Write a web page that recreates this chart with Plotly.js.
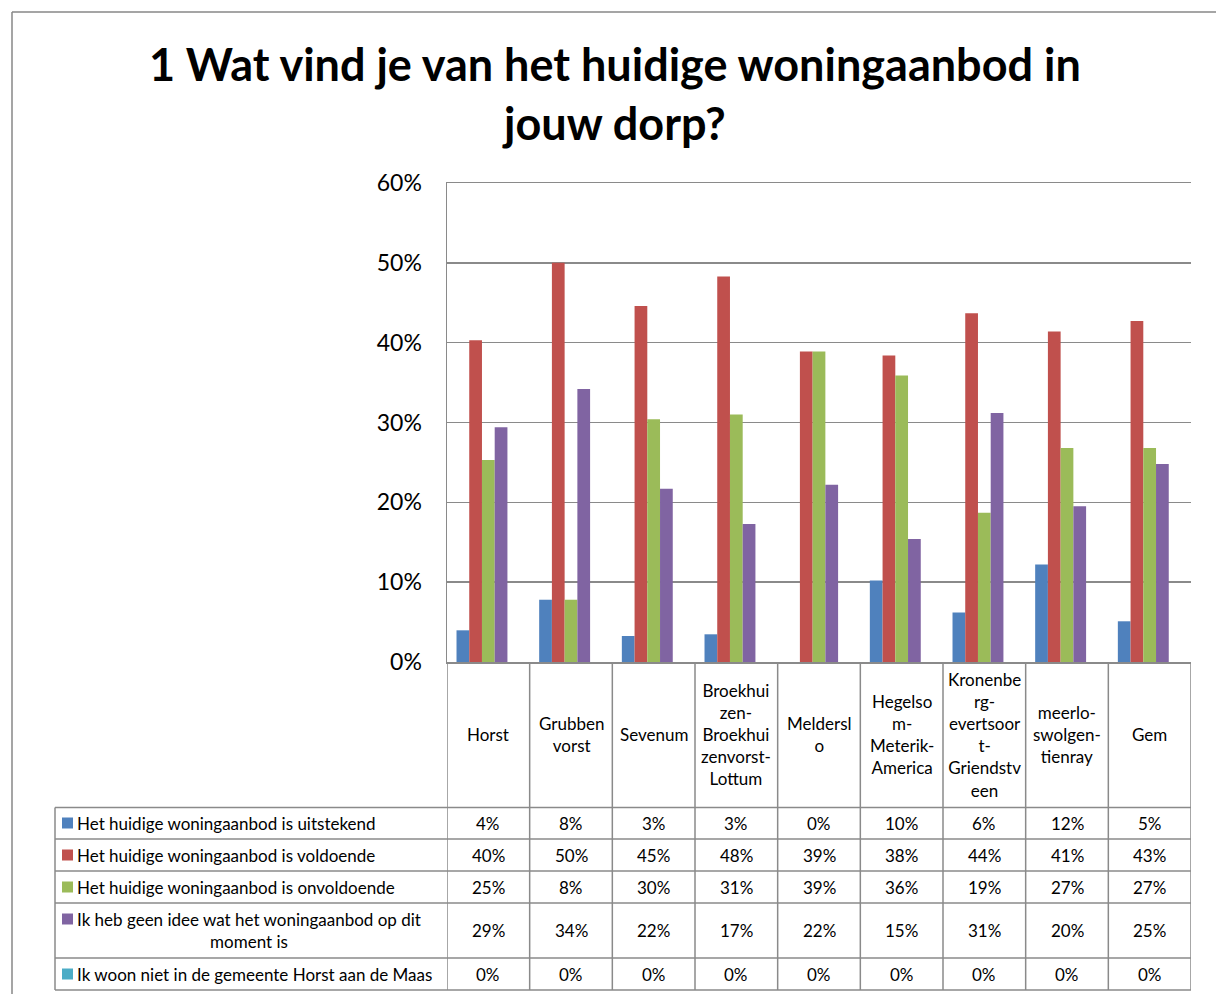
<!DOCTYPE html>
<html>
<head>
<meta charset="utf-8">
<script src="https://cdn.plot.ly/plotly-3.0.1.min.js"></script>
<style>html,body{margin:0;padding:0;background:#fff;}#chart{width:1216px;height:994px;}</style>
</head>
<body>
<div id="chart"></div>
<script>
// ---- data ----
const categories = ['Horst','Grubbenvorst','Sevenum','Broekhuizen-Broekhuizenvorst-Lottum','Melderslo','Hegelsom-Meterik-America','Kronenberg-evertsoort-Griendstveen','meerlo-swolgen-tienray','Gem'];
const categoryLabels = ['Horst','Grubben<br>vorst','Sevenum','Broekhui<br>zen-<br>Broekhui<br>zenvorst-<br>Lottum','Meldersl<br>o','Hegelso<br>m-<br>Meterik-<br>America','Kronenbe<br>rg-<br>evertsoor<br>t-<br>Griendstv<br>een','meerlo-<br>swolgen-<br>tienray','Gem'];
const seriesNames = ['Het huidige woningaanbod is uitstekend','Het huidige woningaanbod is voldoende','Het huidige woningaanbod is onvoldoende','Ik heb geen idee wat het woningaanbod op dit moment is','Ik woon niet in de gemeente Horst aan de Maas'];
const rowLabels = ['Het huidige woningaanbod is uitstekend','Het huidige woningaanbod is voldoende','Het huidige woningaanbod is onvoldoende','Ik heb geen idee wat het woningaanbod op dit<br>moment is','Ik woon niet in de gemeente Horst aan de Maas'];
const uitstekend     = [0.0397,0.078,0.0326,0.0347,0,0.102,0.062,0.122,0.051];
const voldoende      = [0.403,0.500,0.446,0.483,0.389,0.384,0.437,0.414,0.427];
const onvoldoende    = [0.253,0.078,0.304,0.310,0.389,0.359,0.187,0.268,0.268];
const geenIdee       = [0.294,0.342,0.217,0.173,0.222,0.154,0.312,0.195,0.248];
const nietInGemeente = [0,0,0,0,0,0,0,0,0];
const yTickVals = [0,0.1,0.2,0.3,0.4,0.5,0.6];
const titleText = '1 Wat vind je van het huidige woningaanbod in<br>jouw dorp?';

// ---- styling ----
const series = [uitstekend, voldoende, onvoldoende, geenIdee, nietInGemeente];
const colors = ['#4F81BD','#C0504D','#9BBB59','#8064A2','#4BACC6'];
const FONT = 'Lato, "Open Sans", sans-serif';
const GRID = '#8a8a8a';
const L = 447, R = 1191, T = 183, B = 662;
const PX = x => (x - L) / (R - L);
const PY = y => (B - y) / (B - T);

const traces = series.map((vals, k) => ({
  type: 'bar', x: categories, y: vals, name: seriesNames[k],
  marker: {color: colors[k], line: {width: 0}}, hoverinfo: 'x+y+name'
}));

const shapes = [];
const lineStyle = {color: GRID, width: 1.5};
// outer chart border
shapes.push({type:'line', xref:'paper', yref:'paper', x0:PX(12), x1:PX(1220), y0:PY(12), y1:PY(12), line:{color:'#878787', width:1.5}});
shapes.push({type:'line', xref:'paper', yref:'paper', x0:PX(12), x1:PX(12), y0:PY(12), y1:PY(1000), line:{color:'#878787', width:1.5}});
// table horizontal lines
const rowLines = [807.5, 839, 871, 903, 958, 990];
rowLines.forEach(y => shapes.push({type:'line', xref:'paper', yref:'paper', x0:PX(55), x1:1, y0:PY(y), y1:PY(y), line:lineStyle}));
shapes.push({type:'line', xref:'paper', yref:'paper', x0:PX(55), x1:PX(55), y0:PY(807.5), y1:PY(990), line:lineStyle});
for (let i = 0; i <= categories.length; i++) {
  shapes.push({type:'line', xref:'x', yref:'paper', x0:i-0.5, x1:i-0.5, y0:0, y1:PY(990), line:lineStyle});
}
// row centres
const rowCenters = [823, 855, 887, 930.5, 974];
const markerCenters = [823, 855, 887, 919, 974];
markerCenters.forEach((y, k) => shapes.push({type:'rect', xref:'paper', yref:'paper', x0:PX(62), x1:PX(73), y0:PY(y-5.5), y1:PY(y+5.5), fillcolor:colors[k], line:{width:0}}));

const TS = 17;
const annotations = [];
// chart title
annotations.push({
  xref:'paper', yref:'paper', x:PX(615), y:PY(94), xanchor:'center', yanchor:'middle',
  text:titleText, showarrow:false, align:'center', font:{family:FONT, size:45, weight:700, color:'#000'}
});
categories.forEach((c, i) => annotations.push({
  xref:'x', yref:'paper', x:i, y:PY(734.5), xanchor:'center', yanchor:'middle',
  text:categoryLabels[i], showarrow:false, align:'center', font:{family:FONT, size:TS, color:'#000'}
}));
series.forEach((vals, k) => {
  vals.forEach((v, i) => annotations.push({
    xref:'x', yref:'paper', x:i, y:PY(rowCenters[k]), xanchor:'center', yanchor:'middle',
    text:Math.round(v*100) + '%', showarrow:false, font:{family:FONT, size:TS, color:'#000'}
  }));
  annotations.push({
    xref:'paper', yref:'paper', x:PX(75), y:PY(rowCenters[k]), xanchor:'left', yanchor:'middle',
    text:rowLabels[k], showarrow:false, align:'center', font:{family:FONT, size:TS, color:'#000'}
  });
});

const layout = {
  width:1216, height:994,
  margin:{l:L, r:1216-R, t:T, b:994-B, pad:0},
  paper_bgcolor:'#fff', plot_bgcolor:'#fff',
  showlegend:false,
  bargap:0.23, bargroupgap:0, barmode:'group',
  xaxis:{type:'category', range:[-0.5, categories.length-0.5], showticklabels:false, showgrid:false,
         showline:true, mirror:true, linecolor:GRID, linewidth:1.5, ticks:'', zeroline:false, fixedrange:true},
  yaxis:{range:[0,0.6], tickvals:yTickVals, tickformat:'.0%', showgrid:true, gridcolor:GRID, gridwidth:1.5,
         showline:true, linecolor:GRID, linewidth:1.5, zeroline:false, ticks:'', ticklabelstandoff:19,
         tickfont:{family:FONT, size:23, color:'#000'}, fixedrange:true},
  shapes:shapes, annotations:annotations
};

Plotly.newPlot('chart', traces, layout, {displayModeBar:false, staticPlot:true});
</script>
</body>
</html>
